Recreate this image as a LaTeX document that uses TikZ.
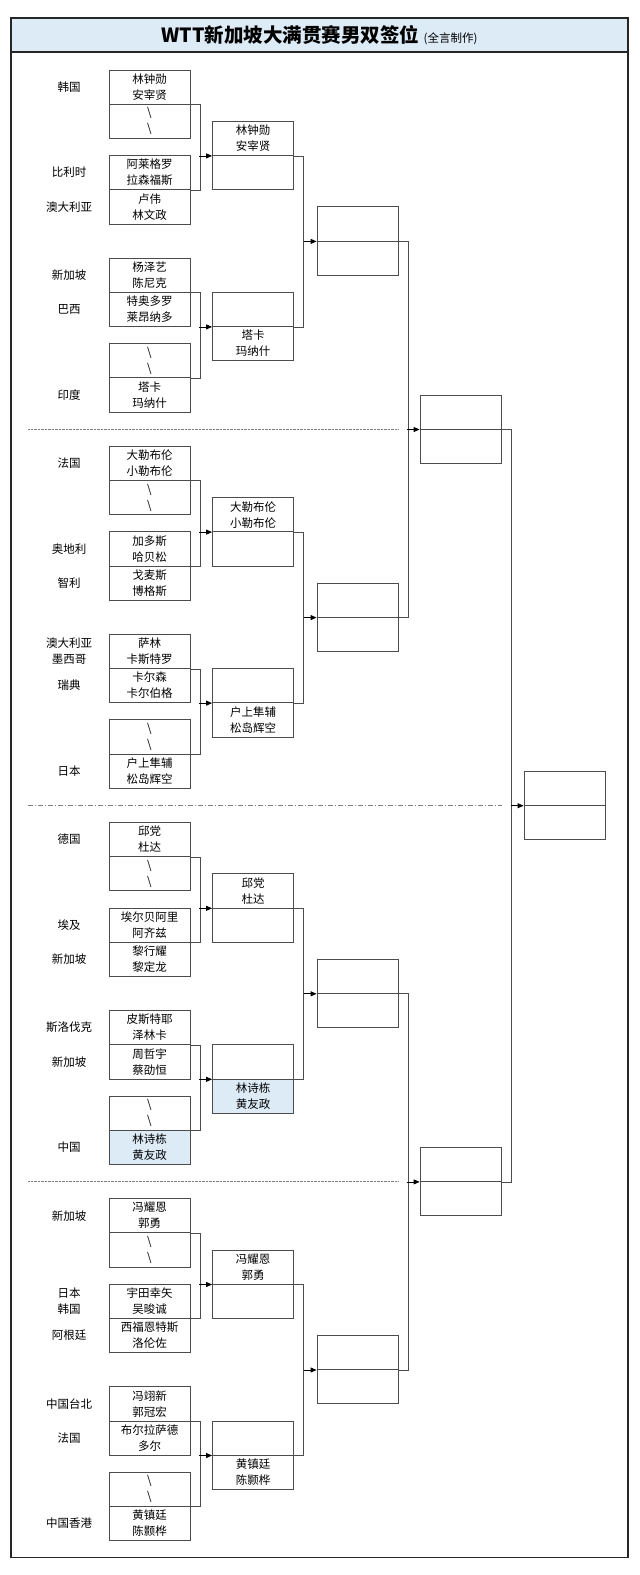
\documentclass[tikz,border=0pt]{standalone}
\usepackage{fontspec}
\setmainfont{Noto Sans CJK SC}
\usetikzlibrary{arrows.meta}
\definecolor{titleblue}{RGB}{221,235,247}
\newcommand{\byepair}{\textbackslash\\\textbackslash}

\begin{document}
\begin{tikzpicture}[x=1pt, y=-17.1pt,
    cell/.style={draw=black!70, line width=0.8pt, minimum width=81pt, minimum height=34.2pt, inner sep=0pt, align=center, font=\fontsize{11.5}{16}\selectfont},
    land/.style={align=center, font=\fontsize{11.5}{16}\selectfont},
    link/.style={draw=black!70, line width=0.8pt},
    arr/.style={black, line width=0.8pt, -{Triangle[length=6pt, width=5pt]}},
    won/.style={fill=titleblue}]

    \useasboundingbox (0, -4.0936) rectangle (640, 88.0117);

    % frame and title
    \draw[line width=1.3pt, black!85] (11, -3.04) rectangle (628, 87);
    \draw[line width=1.3pt, black!85, fill=titleblue] (11, -3.04) rectangle (628, -1.05);
    \node (title) at (319.5, -2.05) {\bfseries\fontsize{19.5}{22}\selectfont WTT新加坡大满贯赛男双签位 {\mdseries\fontsize{11.5}{13}\selectfont (全言制作)}};

    % quarter 1
    \node[land] (q1l1) at (69, 1) {韩国};
    \node[land] (q1l3) at (69, 6) {比利时};
    \node[land] (q1l4) at (69, 8) {澳大利亚};
    \node[land] (q1l5) at (69, 12) {新加坡};
    \node[land] (q1l6) at (69, 14) {巴西};
    \node[land] (q1l8) at (69, 19) {印度};

    \node[cell] (q1p1) at (149.5, 1) {林钟勋\\安宰贤};
    \node[cell] (q1p2) at (149.5, 3) {\byepair};
    \node[cell] (q1p3) at (149.5, 6) {阿莱格罗\\拉森福斯};
    \node[cell] (q1p4) at (149.5, 8) {卢伟\\林文政};
    \node[cell] (q1p5) at (149.5, 12) {杨泽艺\\陈尼克};
    \node[cell] (q1p6) at (149.5, 14) {特奥多罗\\莱昂纳多};
    \node[cell] (q1p7) at (149.5, 17) {\byepair};
    \node[cell] (q1p8) at (149.5, 19) {塔卡\\玛纳什};

    \node[cell] (q1m1) at (253, 4) {林钟勋\\安宰贤};
    \node[cell] (q1m2) at (253, 6) {};
    \node[cell] (q1m3) at (253, 14) {};
    \node[cell] (q1m4) at (253, 16) {塔卡\\玛纳什};

    \node[cell] (q1s1) at (357.5, 9) {};
    \node[cell] (q1s2) at (357.5, 11) {};

    % quarter 2
    \node[land] (q2l1) at (69, 23) {法国};
    \node[land] (q2l3) at (69, 28) {奥地利};
    \node[land] (q2l4) at (69, 30) {智利};
    \node[land] (q2l5) at (69, 34) {澳大利亚\\墨西哥};
    \node[land] (q2l6) at (69, 36) {瑞典};
    \node[land] (q2l8) at (69, 41) {日本};

    \node[cell] (q2p1) at (149.5, 23) {大勒布伦\\小勒布伦};
    \node[cell] (q2p2) at (149.5, 25) {\byepair};
    \node[cell] (q2p3) at (149.5, 28) {加多斯\\哈贝松};
    \node[cell] (q2p4) at (149.5, 30) {戈麦斯\\博格斯};
    \node[cell] (q2p5) at (149.5, 34) {萨林\\卡斯特罗};
    \node[cell] (q2p6) at (149.5, 36) {卡尔森\\卡尔伯格};
    \node[cell] (q2p7) at (149.5, 39) {\byepair};
    \node[cell] (q2p8) at (149.5, 41) {户上隼辅\\松岛辉空};

    \node[cell] (q2m1) at (253, 26) {大勒布伦\\小勒布伦};
    \node[cell] (q2m2) at (253, 28) {};
    \node[cell] (q2m3) at (253, 36) {};
    \node[cell] (q2m4) at (253, 38) {户上隼辅\\松岛辉空};

    \node[cell] (q2s1) at (357.5, 31) {};
    \node[cell] (q2s2) at (357.5, 33) {};

    % quarter 3
    \node[land] (q3l1) at (69, 45) {德国};
    \node[land] (q3l3) at (69, 50) {埃及};
    \node[land] (q3l4) at (69, 52) {新加坡};
    \node[land] (q3l5) at (69, 56) {斯洛伐克};
    \node[land] (q3l6) at (69, 58) {新加坡};
    \node[land] (q3l8) at (69, 63) {中国};

    \node[cell] (q3p1) at (149.5, 45) {邱党\\杜达};
    \node[cell] (q3p2) at (149.5, 47) {\byepair};
    \node[cell] (q3p3) at (149.5, 50) {埃尔贝阿里\\阿齐兹};
    \node[cell] (q3p4) at (149.5, 52) {黎行耀\\黎定龙};
    \node[cell] (q3p5) at (149.5, 56) {皮斯特耶\\泽林卡};
    \node[cell] (q3p6) at (149.5, 58) {周哲宇\\蔡劭恒};
    \node[cell] (q3p7) at (149.5, 61) {\byepair};
    \node[cell, won] (q3p8) at (149.5, 63) {林诗栋\\黄友政};

    \node[cell] (q3m1) at (253, 48) {邱党\\杜达};
    \node[cell] (q3m2) at (253, 50) {};
    \node[cell] (q3m3) at (253, 58) {};
    \node[cell, won] (q3m4) at (253, 60) {林诗栋\\黄友政};

    \node[cell] (q3s1) at (357.5, 53) {};
    \node[cell] (q3s2) at (357.5, 55) {};

    % quarter 4
    \node[land] (q4l1) at (69, 67) {新加坡};
    \node[land] (q4l3) at (69, 72) {日本\\韩国};
    \node[land] (q4l4) at (69, 74) {阿根廷};
    \node[land] (q4l5) at (69, 78) {中国台北};
    \node[land] (q4l6) at (69, 80) {法国};
    \node[land] (q4l8) at (69, 85) {中国香港};

    \node[cell] (q4p1) at (149.5, 67) {冯耀恩\\郭勇};
    \node[cell] (q4p2) at (149.5, 69) {\byepair};
    \node[cell] (q4p3) at (149.5, 72) {宇田幸矢\\吴晙诚};
    \node[cell] (q4p4) at (149.5, 74) {西福恩特斯\\洛伦佐};
    \node[cell] (q4p5) at (149.5, 78) {冯翊新\\郭冠宏};
    \node[cell] (q4p6) at (149.5, 80) {布尔拉萨德\\多尔};
    \node[cell] (q4p7) at (149.5, 83) {\byepair};
    \node[cell] (q4p8) at (149.5, 85) {黄镇廷\\陈颢桦};

    \node[cell] (q4m1) at (253, 70) {冯耀恩\\郭勇};
    \node[cell] (q4m2) at (253, 72) {};
    \node[cell] (q4m3) at (253, 80) {};
    \node[cell] (q4m4) at (253, 82) {黄镇廷\\陈颢桦};

    \node[cell] (q4s1) at (357.5, 75) {};
    \node[cell] (q4s2) at (357.5, 77) {};

    % semi finals and final
    \node[cell] (h1f1) at (460.5, 20) {};
    \node[cell] (h1f2) at (460.5, 22) {};
    \node[cell] (h2f1) at (460.5, 64) {};
    \node[cell] (h2f2) at (460.5, 66) {};
    \node[cell] (fin1) at (564.5, 42) {};
    \node[cell] (fin2) at (564.5, 44) {};

    % dividers
    \draw[gray, densely dotted] (28, 21) -- (398, 21);
    \draw[gray, dash pattern=on 5pt off 2pt on 1pt off 2pt] (28, 43) -- (502, 43);
    \draw[gray, densely dotted] (28, 65) -- (398, 65);

    % brackets, first round
    \draw[link] (q1p1.south east) -- ++(9.5,0) |- (q1p3.south east);
    \draw[link] (q1p5.south east) -- ++(9.5,0) |- (q1p7.south east);
    \draw[link] (q2p1.south east) -- ++(9.5,0) |- (q2p3.south east);
    \draw[link] (q2p5.south east) -- ++(9.5,0) |- (q2p7.south east);
    \draw[link] (q3p1.south east) -- ++(9.5,0) |- (q3p3.south east);
    \draw[link] (q3p5.south east) -- ++(9.5,0) |- (q3p7.south east);
    \draw[link] (q4p1.south east) -- ++(9.5,0) |- (q4p3.south east);
    \draw[link] (q4p5.south east) -- ++(9.5,0) |- (q4p7.south east);
    \draw[arr] ([xshift=-13pt]q1m1.south west) -- (q1m1.south west);
    \draw[arr] ([xshift=-13pt]q1m3.south west) -- (q1m3.south west);
    \draw[arr] ([xshift=-13pt]q2m1.south west) -- (q2m1.south west);
    \draw[arr] ([xshift=-13pt]q2m3.south west) -- (q2m3.south west);
    \draw[arr] ([xshift=-13pt]q3m1.south west) -- (q3m1.south west);
    \draw[arr] ([xshift=-13pt]q3m3.south west) -- (q3m3.south west);
    \draw[arr] ([xshift=-13pt]q4m1.south west) -- (q4m1.south west);
    \draw[arr] ([xshift=-13pt]q4m3.south west) -- (q4m3.south west);

    % brackets, second round
    \draw[link] (q1m1.south east) -- ++(9.5,0) |- (q1m3.south east);
    \draw[link] (q2m1.south east) -- ++(9.5,0) |- (q2m3.south east);
    \draw[link] (q3m1.south east) -- ++(9.5,0) |- (q3m3.south east);
    \draw[link] (q4m1.south east) -- ++(9.5,0) |- (q4m3.south east);
    \draw[arr] ([xshift=-13pt]q1s1.south west) -- (q1s1.south west);
    \draw[arr] ([xshift=-13pt]q2s1.south west) -- (q2s1.south west);
    \draw[arr] ([xshift=-13pt]q3s1.south west) -- (q3s1.south west);
    \draw[arr] ([xshift=-13pt]q4s1.south west) -- (q4s1.south west);

    % brackets, quarter finals and semi finals
    \draw[link] (q1s1.south east) -- ++(9.5,0) |- (q2s1.south east);
    \draw[link] (q3s1.south east) -- ++(9.5,0) |- (q4s1.south east);
    \draw[arr] ([xshift=-13pt]h1f1.south west) -- (h1f1.south west);
    \draw[arr] ([xshift=-13pt]h2f1.south west) -- (h2f1.south west);
    \draw[link] (h1f1.south east) -- ++(9.5,0) |- (h2f1.south east);
    \draw[arr] ([xshift=-13pt]fin1.south west) -- (fin1.south west);

\end{tikzpicture}
\end{document}
